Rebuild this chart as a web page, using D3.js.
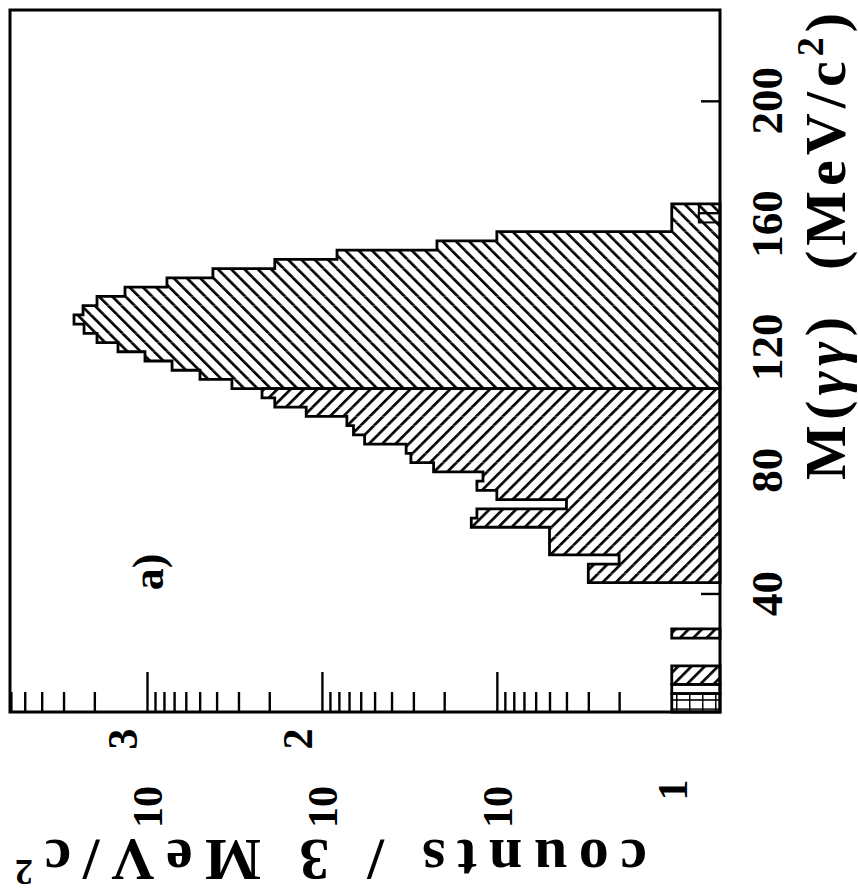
<!doctype html>
<html lang="en">
<head>
<meta charset="utf-8">
<title>M(gamma gamma) spectrum</title>
<script src="https://cdn.jsdelivr.net/npm/d3@7"></script>
<style>
  html, body { margin: 0; padding: 0; background: #fff; }
  svg { display: block; }
  text { font-family: "Liberation Serif", "DejaVu Serif", serif; font-weight: bold; fill: #000; }
</style>
</head>
<body>
<svg id="chart" width="858" height="896"></svg>
<script>
// 3 MeV/c^2 bins, lower edge of every non-empty bin
const massLow = [1.5, 4.5, 7.5, 10.5, 13.5, 25.5,
  43.5, 46.5, 49.5, 52.5, 55.5, 58.5, 61.5, 64.5, 67.5, 70.5,
  73.5, 76.5, 79.5, 82.5, 85.5, 88.5, 91.5, 94.5, 97.5, 100.5, 103.5,
  106.5, 109.5, 112.5, 115.5, 118.5, 121.5, 124.5, 127.5, 130.5, 133.5,
  136.5, 139.5, 142.5, 145.5, 148.5, 151.5, 154.5, 157.5, 160.5, 163.5];
const counts = [1, 1, 1, 1, 1, 1,
  3, 3, 2, 5, 5, 5, 14, 13, 4, 10,
  13, 12, 23, 31, 33, 57, 66, 72, 123, 186, 220,
  327, 498, 719, 1027, 1465, 1931, 2290, 2614, 2321, 1931,
  1336, 769, 420, 186, 82, 22, 10, 1, 1, 1];
// hatch style of each bin
const fillType = ["cross", "cross", "open", "fwd", "fwd", "fwd",
  "fwd", "fwd", "fwd", "fwd", "fwd", "fwd", "fwd", "fwd", "fwd", "fwd",
  "fwd", "fwd", "fwd", "fwd", "fwd", "fwd", "fwd", "fwd", "fwd", "fwd", "fwd",
  "back", "back", "back", "back", "back", "back", "back", "back", "back", "back",
  "back", "back", "back", "back", "back", "back", "back", "back", "back", "back"];
// small second histogram drawn on top
const overlayLow = [160.5, 163.5];
const overlayCounts = [0.7, 0.7];

const binWidth = 3;
const massTicks = [40, 80, 120, 160, 200];
const decades = [1, 10, 100, 1000];
const decadeBase = ["1", "10", "10", "10"];
const decadeExp = ["", "", "2", "3"];

const svg = d3.select("#chart");
const frameL = 10, frameT = 10, frameR = 720, frameB = 712;

// mass runs upward along the right side, counts grow leftward
const my = d3.scaleLinear().domain([1.5, 229.5]).range([frameB, frameT]);
const cx = d3.scaleLog().domain([0.53, 6070]).range([frameR, frameL]);

const defs = svg.append("defs");
function hatch(id, angle) {
  const p = defs.append("pattern")
    .attr("id", id)
    .attr("patternUnits", "userSpaceOnUse")
    .attr("width", 9.4).attr("height", 10)
    .attr("patternTransform", `rotate(${angle})`);
  p.append("rect").attr("width", 9.4).attr("height", 10).attr("fill", "#fff");
  p.append("line").attr("x1", 1.3).attr("y1", -1).attr("x2", 1.3).attr("y2", 11)
    .attr("stroke", "#000").attr("stroke-width", 2.7);
}
hatch("fwd", 45);
hatch("back", -45);
const cross = defs.append("pattern")
  .attr("id", "cross")
  .attr("patternUnits", "userSpaceOnUse")
  .attr("width", 13).attr("height", 9.2);
cross.append("rect").attr("width", 13).attr("height", 9.2).attr("fill", "#fff");
cross.append("path").attr("d", "M0,0V9.2M0,0H13")
  .attr("stroke", "#000").attr("stroke-width", 3);

const fills = { cross: "url(#cross)", fwd: "url(#fwd)", back: "url(#back)", open: "#fff" };

// count axis ticks (bottom edge, pointing up)
const cTicks = cx.ticks().filter(v => v >= 1);
const cAxis = svg.append("g")
  .attr("transform", `translate(0,${frameB})`)
  .call(d3.axisBottom(cx).tickValues(cTicks).tickSize(-20).tickFormat(""));
cAxis.select(".domain").remove();
cAxis.selectAll(".tick line")
  .attr("y2", d => decades.includes(d) ? -40 : -20)
  .attr("stroke", "#000").attr("stroke-width", 2.4);

// mass axis ticks (right edge, pointing left)
const mAxis = svg.append("g")
  .attr("transform", `translate(${frameR},0)`)
  .call(d3.axisRight(my).tickValues(massTicks).tickSizeInner(-19).tickSizeOuter(0).tickFormat(""));
mAxis.select(".domain").remove();
mAxis.selectAll(".tick line").attr("stroke", "#000").attr("stroke-width", 2.4);

const bins = massLow.map((m, i) => ({ m, c: counts[i], f: fillType[i] }));

svg.append("g").selectAll("rect")
  .data(bins)
  .join("rect")
  .attr("x", d => cx(d.c))
  .attr("y", d => my(d.m + binWidth))
  .attr("width", d => frameR - cx(d.c))
  .attr("height", d => my(d.m) - my(d.m + binWidth))
  .attr("fill", d => fills[d.f]);

// outline every contiguous run of bins sharing a hatch
const runs = [];
bins.forEach(b => {
  const last = runs.length ? runs[runs.length - 1] : null;
  const prev = last ? last[last.length - 1] : null;
  if (prev && prev.f === b.f && Math.abs(prev.m + binWidth - b.m) < 0.01) last.push(b);
  else runs.push([b]);
});
function runPath(run) {
  let d = `M${frameR},${my(run[0].m)}`;
  run.forEach(b => { d += `L${cx(b.c)},${my(b.m)}L${cx(b.c)},${my(b.m + binWidth)}`; });
  d += `L${frameR},${my(run[run.length - 1].m + binWidth)}Z`;
  return d;
}
svg.append("g").selectAll("path")
  .data(runs)
  .join("path")
  .attr("d", runPath)
  .attr("fill", "none")
  .attr("stroke", "#000")
  .attr("stroke-width", 2.8)
  .attr("stroke-linejoin", "miter");

svg.append("g").selectAll("rect")
  .data(overlayLow.map((m, i) => ({ m, c: overlayCounts[i] })))
  .join("rect")
  .attr("x", d => cx(d.c))
  .attr("y", d => my(d.m + binWidth))
  .attr("width", d => frameR - cx(d.c))
  .attr("height", d => my(d.m) - my(d.m + binWidth))
  .attr("fill", "none").attr("stroke", "#000").attr("stroke-width", 2);

// frame
svg.append("rect")
  .attr("x", frameL).attr("y", frameT)
  .attr("width", frameR - frameL).attr("height", frameB - frameT)
  .attr("fill", "none").attr("stroke", "#000").attr("stroke-width", 3);

// mass tick labels (rotated, reading upward)
svg.append("g").selectAll("text")
  .data(massTicks)
  .join("text")
  .attr("x", 782).attr("y", d => my(d))
  .attr("transform", d => `rotate(-90,782,${my(d)})`)
  .attr("text-anchor", "middle")
  .attr("font-size", 45)
  .text(d => d);

// count tick labels
decades.forEach((d, i) => {
  const px = cx(d);
  const py = d === 1 ? 790 : 807;
  svg.append("text")
    .attr("x", px + 15).attr("y", py)
    .attr("transform", `rotate(-90,${px + 15},${py})`)
    .attr("text-anchor", "middle")
    .attr("font-size", 42)
    .text(decadeBase[i]);
  if (decadeExp[i]) {
    svg.append("text")
      .attr("x", px - 10).attr("y", 739)
      .attr("transform", `rotate(-90,${px - 10},739)`)
      .attr("text-anchor", "middle")
      .attr("font-size", 42)
      .text(decadeExp[i]);
  }
});

// axis titles
const mt = svg.append("text")
  .attr("x", 845).attr("y", 480)
  .attr("transform", "rotate(-90,845,480)")
  .attr("font-size", 58)
  .attr("textLength", 163).attr("lengthAdjust", "spacing");
mt.append("tspan").text("M(");
mt.append("tspan").attr("font-style", "italic").text("γγ");
mt.append("tspan").text(")");

const ut = svg.append("text")
  .attr("x", 845).attr("y", 270)
  .attr("transform", "rotate(-90,845,270)")
  .attr("font-size", 58)
  .attr("textLength", 257).attr("lengthAdjust", "spacing");
ut.append("tspan").text("(MeV/c");
ut.append("tspan").attr("font-size", 38).attr("dy", -22).text("2");
ut.append("tspan").attr("dy", 22).text(")");

const yt = svg.append("text")
  .attr("x", 647).attr("y", 840)
  .attr("transform", "rotate(180,647,840)")
  .attr("font-size", 60)
  .attr("textLength", 632).attr("lengthAdjust", "spacing");
yt.append("tspan").text("counts / 3 MeV/c");
yt.append("tspan").attr("font-size", 36).attr("dy", -20).text("2");

// panel label
svg.append("text")
  .attr("x", 163).attr("y", 572)
  .attr("transform", "rotate(-90,163,572)")
  .attr("text-anchor", "middle")
  .attr("font-size", 44)
  .text("a)");
</script>
</body>
</html>
